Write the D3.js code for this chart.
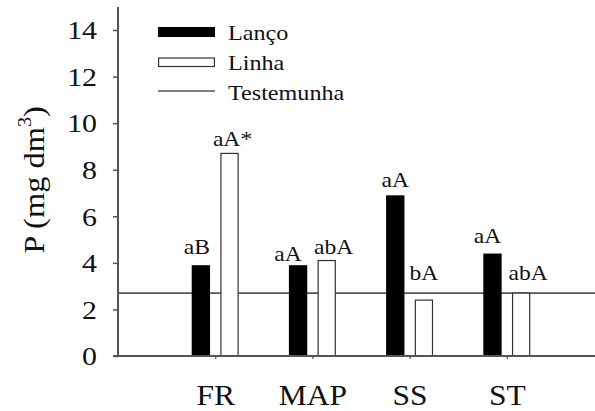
<!DOCTYPE html>
<html lang="pt">
<head>
<meta charset="UTF-8">
<title>P (mg dm3)</title>
<script src="https://d3js.org/d3.v7.min.js"></script>
<style>
  body { margin: 0; background: #fff; }
  svg text { font-family: "Liberation Serif", "Times New Roman", Times, serif !important; fill: #111; }
</style>
</head>
<body>
<div id="chart"></div>
<script>
// data
const categories = ["FR", "MAP", "SS", "ST"];
const seriesNames = ["Lanço", "Linha"];
const lancoValues = [3.9, 3.9, 6.9, 4.4];
const linhaValues = [8.7, 4.1, 2.4, 2.7];
const lancoLabels = ["aB", "aA", "aA", "aA"];
const linhaLabels = ["aA*", "abA", "bA", "abA"];
const testemunha = 2.7;
const yTicks = [0, 2, 4, 6, 8, 10, 12, 14];

// label nudges in pixels (layout only)
const lancoNudge = [[-4, -11], [-10, -4], [0, -8], [-5, -11]];
const linhaNudge = [[3, -7], [7, -7], [0, -20], [7, -13]];

const W = 595, H = 411;
const axisX = 118;

const svg = d3.select("#chart").append("svg")
  .attr("width", W).attr("height", H);

const y = d3.scaleLinear().domain([0, 14]).range([356, 30]);
const x = d3.scalePoint().domain(categories).range([axisX, 604]).padding(1);
const xs = d3.scaleBand().domain(seriesNames).range([-23.5, 23.5]).paddingInner(0.36);

const grey = "#555";

// testemunha line
svg.append("line")
  .attr("x1", axisX).attr("x2", W)
  .attr("y1", y(testemunha)).attr("y2", y(testemunha))
  .attr("stroke", grey).attr("stroke-width", 1.6);

// bars
const rows = categories.map((c, i) => ({
  cat: c,
  vals: [
    { s: "Lanço", v: lancoValues[i], lab: lancoLabels[i], n: lancoNudge[i] },
    { s: "Linha", v: linhaValues[i], lab: linhaLabels[i], n: linhaNudge[i] }
  ]
}));

const grp = svg.selectAll(".grp").data(rows).enter().append("g")
  .attr("transform", d => `translate(${x(d.cat)},0)`);

grp.selectAll("rect").data(d => d.vals).enter().append("rect")
  .attr("x", d => xs(d.s) + (d.s === "Linha" ? 0.6 : 0))
  .attr("width", d => xs.bandwidth() - (d.s === "Linha" ? 1.2 : 0))
  .attr("y", d => y(d.v))
  .attr("height", d => y(0) - y(d.v))
  .attr("fill", d => d.s === "Lanço" ? "#000" : "#fff")
  .attr("stroke", d => d.s === "Lanço" ? "none" : "#333")
  .attr("stroke-width", 1.2);

grp.selectAll(".lab").data(d => d.vals).enter().append("text")
  .attr("class", "lab")
  .attr("text-anchor", "middle")
  .style("font-size", "20px")
  .attr("transform", d => `translate(${xs(d.s) + xs.bandwidth() / 2 + d.n[0]},${y(d.v) + d.n[1]}) scale(1.18,1)`)
  .text(d => d.lab);

// y axis
const yAxis = svg.append("g")
  .attr("transform", `translate(${axisX},0)`)
  .call(d3.axisLeft(y).tickValues(yTicks).tickSize(5).tickSizeOuter(0).tickPadding(0));
yAxis.select(".domain").attr("stroke", grey).attr("stroke-width", 2)
  .attr("d", `M0,7V${y(0)}`);
yAxis.selectAll(".tick line").attr("stroke", grey).attr("stroke-width", 1.5);
yAxis.selectAll(".tick text")
  .style("font-size", "26px")
  .attr("x", -21 / 1.15).attr("dy", "0.34em")
  .attr("transform", "scale(1.15,1)");

// x axis
const xAxis = svg.append("g")
  .attr("transform", `translate(0,${y(0)})`)
  .call(d3.axisBottom(x).tickSize(3).tickSizeOuter(0));
xAxis.select(".domain").attr("stroke", grey).attr("stroke-width", 2)
  .attr("d", `M${axisX - 5},0H${W}`);
xAxis.selectAll(".tick line").attr("stroke", grey).attr("stroke-width", 1.2);
xAxis.selectAll(".tick text")
  .style("font-size", "30px")
  .attr("y", 49).attr("dy", 0)
  .attr("transform", "scale(1.05,1)");

// y label
const yl = svg.append("text")
  .attr("text-anchor", "middle")
  .style("font-size", "29px")
  .attr("transform", "translate(44,180) rotate(-90) scale(1.12,1)");
yl.append("tspan").text("P (mg dm");
yl.append("tspan").style("font-size", "18px").attr("dy", -13).text("3");
yl.append("tspan").attr("dy", 13).text(")");

// legend
const leg = svg.append("g");
const lx = 158, lw = 57;
leg.append("rect").attr("x", lx).attr("y", 27).attr("width", lw).attr("height", 10).attr("fill", "#000");
leg.append("rect").attr("x", lx + 0.6).attr("y", 58).attr("width", lw - 1.2).attr("height", 8.5)
  .attr("fill", "#fff").attr("stroke", "#333").attr("stroke-width", 1.2);
leg.append("line").attr("x1", lx).attr("x2", lx + lw).attr("y1", 91).attr("y2", 91)
  .attr("stroke", grey).attr("stroke-width", 1.6);
const legTexts = ["Lanço", "Linha", "Testemunha"];
const legBase = [40, 70, 100];
legTexts.forEach((t, i) => {
  leg.append("text").style("font-size", "21px")
    .attr("transform", `translate(228,${legBase[i]}) scale(1.15,1)`)
    .text(t);
});
</script>
</body>
</html>
